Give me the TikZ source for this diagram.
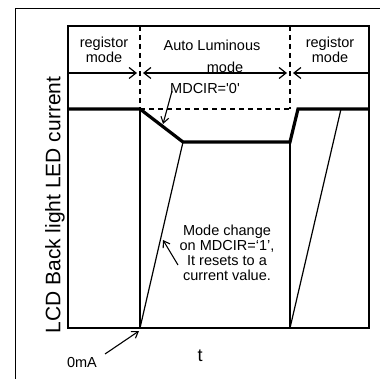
\documentclass[tikz,border=0pt]{standalone}
\usepackage{fontspec}
\setmainfont{Liberation Sans}
\usetikzlibrary{arrows.meta}
\begin{document}
\begin{tikzpicture}[
		x=1pt, y=-1pt,
		thinline/.style={line width=1.2pt},
		level/.style={line width=3.2pt, line join=miter},
		boundary/.style={line width=1.2pt, dash pattern=on 5pt off 4pt},
		barb/.tip={Straight Barb[length=7pt,width=11pt,line width=1.2pt]},
		callout/.style={line width=1.1pt, -{Straight Barb[length=6pt,width=8pt,line width=1.1pt]}},
		txt/.style={font=\fontsize{14.5}{15}\selectfont, align=center, inner sep=0pt},
	]
	\useasboundingbox (0,0) rectangle (380,379);

	% outer frame
	\draw[line width=1pt] (15,379) -- (15,9) -- (380,9);

	% plot frame
	\coordinate (tl) at (68,26);
	\coordinate (br) at (369,328);
	\draw[thinline] (tl) rectangle (br);

	% mode borders
	\coordinate (b1top) at (140,26);
	\coordinate (b1mid) at (140,109);
	\coordinate (b1bot) at (140,328);
	\coordinate (b2top) at (290,26);
	\coordinate (b2mid) at (290,109);
	\coordinate (b2low) at (290,142);
	\coordinate (b2bot) at (290,328);
	\draw[boundary] (b1top) -- (b1mid);
	\draw[boundary] (b2top) -- (b2mid);
	\draw[boundary] (b1mid) -- (b2mid);
	\draw[thinline] (b1mid) -- (b1bot);
	\draw[thinline] (b2low) -- (b2bot);

	% mode arrows
	\coordinate (h0) at (68,73);
	\coordinate (h1) at (137,73);
	\coordinate (h2) at (143,73);
	\coordinate (h3) at (287,73);
	\coordinate (h4) at (293,73);
	\coordinate (h5) at (369,73);
	\draw[thinline, -barb] (h0) -- (h1);
	\draw[thinline, barb-barb] (h2) -- (h3);
	\draw[thinline, barb-] (h4) -- (h5);

	\node[txt] (reg1) at (104,50) {registor\\mode};
	\node[txt] (auto) at (212,45) {Auto Luminous};
	\node[txt] (automode) at (225,67) {mode};
	\node[txt] (reg2) at (330,50) {registor\\mode};

	% LED current
	\coordinate (l0) at (68,109);
	\coordinate (l1) at (183,142);
	\coordinate (l2) at (298,109);
	\coordinate (l3) at (369,109);
	\draw[level] (l0) -- (b1mid) -- (l1) -- (b2low) -- (l2) -- (l3);

	% reset ramps
	\coordinate (r2) at (341,109);
	\draw[thinline] (b1bot) -- (l1);
	\draw[thinline] (b2bot) -- (r2);

	% labels
	\node[txt] (mdc) at (205,89) {MDCIR=\textquotesingle0\textquotesingle};
	\node[txt] (note) at (227,253) {Mode change\\on MDCIR=`1',\\It resets to a\\current value.};
	\node[txt] (zero) at (82,363) {0mA};
	\node[txt, font=\fontsize{18}{18}\selectfont] (tlab) at (200,356) {t};
	\node[txt, font=\fontsize{21}{21}\selectfont, rotate=90] (ylab) at (55,205) {LCD Back light LED current};

	% callouts
	\coordinate (mdcfrom) at (172,91);
	\coordinate (mdcto) at (163,124);
	\coordinate (notefrom) at (178,265);
	\coordinate (noteto) at (163,240);
	\coordinate (zerofrom) at (105,354);
	\coordinate (zeroto) at (139,331);
	\draw[callout] (mdcfrom) -- (mdcto);
	\draw[callout] (notefrom) -- (noteto);
	\draw[callout] (zerofrom) -- (zeroto);
\end{tikzpicture}
\end{document}
